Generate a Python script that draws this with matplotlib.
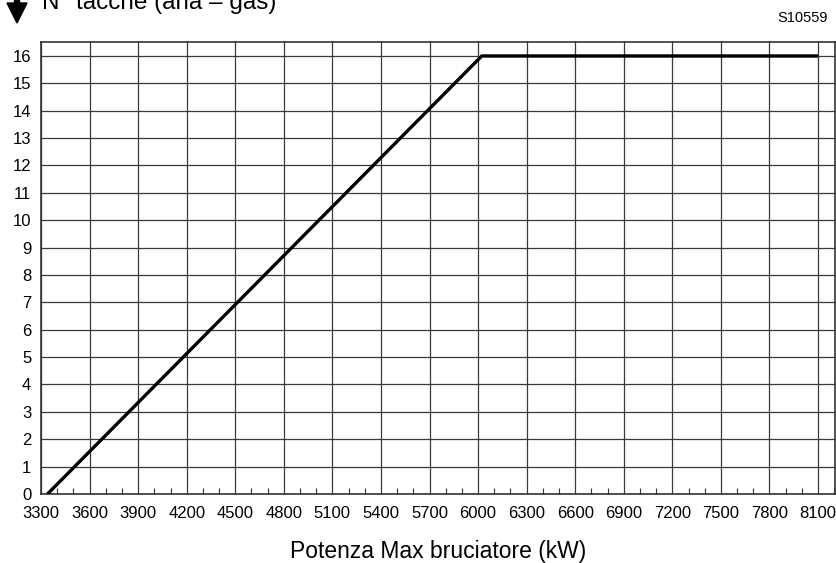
import matplotlib
matplotlib.use("Agg")
import matplotlib.pyplot as plt
from matplotlib.patches import FancyArrow

plt.rcParams['font.family'] = ['Liberation Sans', 'DejaVu Sans']

# data
power_kw = [3340, 6023, 8100]
notches = [0, 16, 16]
x_ticks = list(range(3300, 8101, 300))
y_ticks = list(range(0, 17))

W, H = 837, 563
fig = plt.figure(figsize=(W / 100, H / 100), dpi=100)
left, right, bottom, top = 41, 835, 494, 42
ax = fig.add_axes([left / W, 1 - bottom / H, (right - left) / W, (bottom - top) / H])

ax.set_xlim(3300, 8205)
ax.set_ylim(0, 16.51)
ax.set_xticks(x_ticks)
ax.set_yticks(y_ticks)
ax.set_xticks(list(range(3300, 8201, 100)), minor=True)
ax.tick_params(axis='both', which='major', length=0, labelsize=12, colors='black')
ax.tick_params(axis='x', which='major', pad=9)
ax.tick_params(axis='y', which='major', pad=7)
ax.tick_params(axis='x', which='minor', direction='in', length=4, width=0.8, color='#333333')
ax.tick_params(axis='y', which='minor', length=0)
ax.grid(True, which='major', color='#3a3a3a', linewidth=0.9)
ax.set_axisbelow(True)
for s in ax.spines.values():
    s.set_color('#333333')
    s.set_linewidth(1.2)

ax.plot(power_kw, notches, color='black', linewidth=2.4, solid_capstyle='butt', zorder=3)

fig.text(438 / W, 1 - 558 / H, 'Potenza Max bruciatore (kW)', fontsize=16.5, ha='center', va='baseline')

fig.text(42 / W, 1 - 9 / H, 'N° tacche (aria – gas)', fontsize=17.5, ha='left', va='baseline')
fig.text(828 / W, 1 - 22 / H, 'S10559', fontsize=10.5, ha='right', va='baseline')

arr = FancyArrow(17 / W, 1 + 4 / H, 0, -27 / H, width=5 / W, head_width=20 / W,
                 head_length=20 / H, length_includes_head=True, color='black',
                 transform=fig.transFigure, figure=fig)
fig.patches.append(arr)

fig.savefig('out.png', dpi=100)
